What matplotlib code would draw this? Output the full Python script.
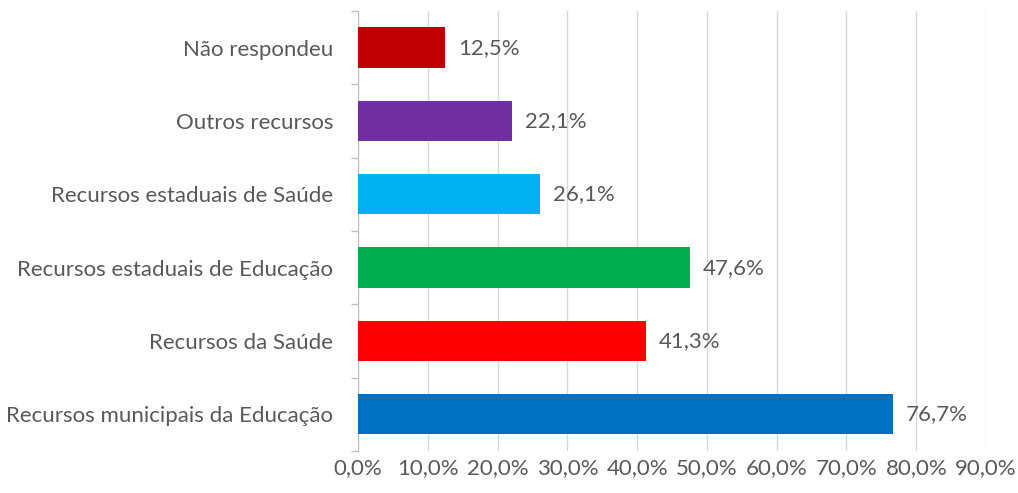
import matplotlib.pyplot as plt
from matplotlib.ticker import FuncFormatter

categories = ['Recursos municipais da Educação', 'Recursos da Saúde',
              'Recursos estaduais de Educação', 'Recursos estaduais de Saúde',
              'Outros recursos', 'Não respondeu']
values = [76.7, 41.3, 47.6, 26.1, 22.1, 12.5]
colors = ['#0070C0', '#FF0000', '#00B050', '#00B0F0', '#7030A0', '#C00000']
xticks = [0, 10, 20, 30, 40, 50, 60, 70, 80, 90]

plt.rcParams['font.family'] = ['Lato', 'DejaVu Sans']
txt = '#595959'
fs = 16

fig = plt.figure(figsize=(10.18, 4.93), dpi=100)
ax = fig.add_axes([0.3517, 0.0852, 0.6169, 0.8925])

y = range(len(categories))
ax.barh(y, values, height=0.55, color=colors, zorder=3)
for i, v in enumerate(values):
    ax.text(v + 1.8, i, ('%.1f%%' % v).replace('.', ','), va='center', ha='left',
            fontsize=fs, color=txt)

ax.set_xlim(0, 90)
ax.set_ylim(-0.5, len(categories) - 0.5)
ax.set_xticks(xticks)
ax.xaxis.set_major_formatter(FuncFormatter(lambda x, p: ('%.1f%%' % x).replace('.', ',')))
ax.grid(axis='x', color='#D9D9D9', linewidth=1, zorder=0)

ax.set_yticks(list(y))
ax.set_yticklabels(categories)
ax.set_yticks([i - 0.5 for i in range(len(categories) + 1)], minor=True)
ax.tick_params(axis='y', which='major', length=0, pad=18, labelsize=fs, labelcolor=txt)
ax.tick_params(axis='y', which='minor', length=5, color='#BFBFBF', width=1)
ax.tick_params(axis='x', length=0, pad=5, labelsize=fs, labelcolor=txt)

for s in ['top', 'right', 'bottom']:
    ax.spines[s].set_visible(False)
ax.spines['left'].set_color('#BFBFBF')

fig.savefig('out.png', dpi=100)
